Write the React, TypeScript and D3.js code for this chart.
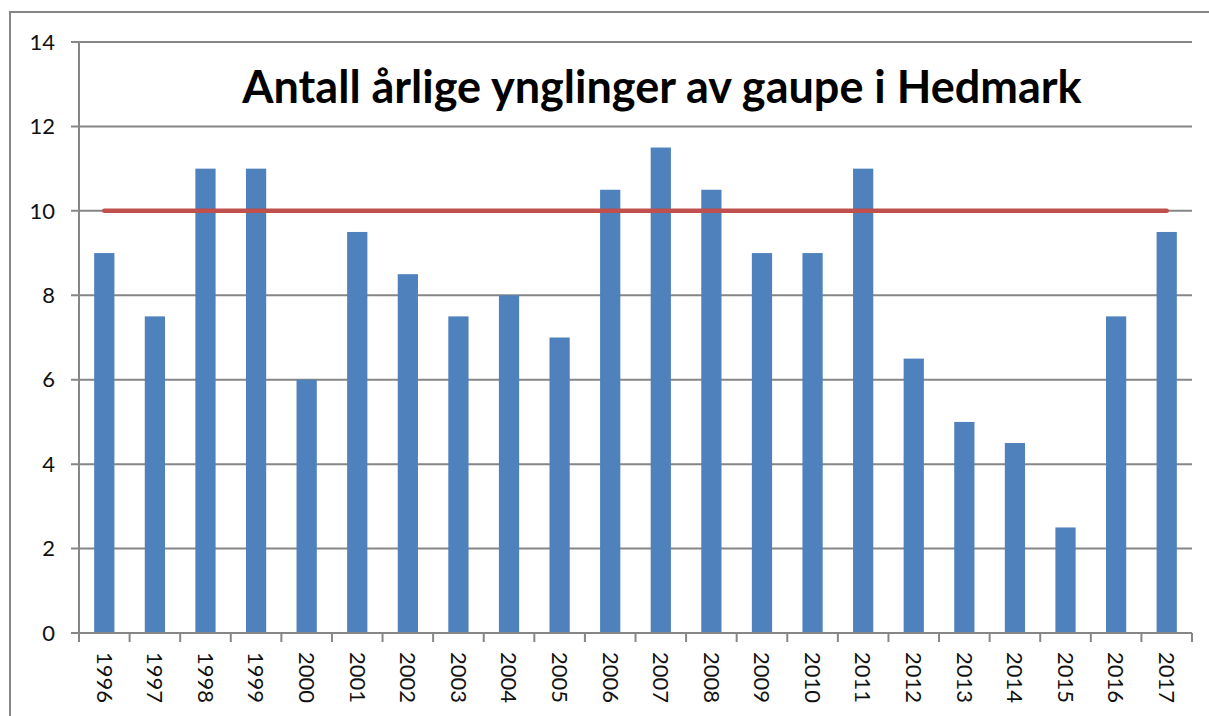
import { useEffect, useRef } from "react";
import * as d3 from "d3";

const years = [
  "1996", "1997", "1998", "1999", "2000", "2001", "2002", "2003", "2004", "2005", "2006",
  "2007", "2008", "2009", "2010", "2011", "2012", "2013", "2014", "2015", "2016", "2017",
];
const broods = [9, 7.5, 11, 11, 6, 9.5, 8.5, 7.5, 8, 7, 10.5, 11.5, 10.5, 9, 9, 11, 6.5, 5, 4.5, 2.5, 7.5, 9.5];
const target = years.map(() => 10);
const yTicks = [0, 2, 4, 6, 8, 10, 12, 14];
const title = "Antall årlige ynglinger av gaupe i Hedmark";

const FONT = "Lato, 'Open Sans', sans-serif";
const GRID = "#868686";

const App = () => {
  const svgRef = useRef<SVGSVGElement | null>(null);

  useEffect(() => {
    const svg = d3.select(svgRef.current);
    svg.selectAll("*").remove();

    const width = 1209;
    const height = 716;
    const left = 79;
    const right = 1192;
    const top = 42;
    const bottom = 633;

    // chart frame (runs off the right/bottom edge like the screenshot)
    svg.append("rect")
      .attr("x", 10).attr("y", 12)
      .attr("width", width + 20).attr("height", height + 20)
      .attr("fill", "white").attr("stroke", GRID).attr("stroke-width", 2);

    const x = d3.scaleBand().domain(years).range([left, right]).paddingInner(0).paddingOuter(0);
    const y = d3.scaleLinear().domain([0, 14]).range([bottom, top]);

    // gridlines + y ticks
    svg.append("g")
      .selectAll("line")
      .data(yTicks)
      .join("line")
      .attr("x1", left - 8).attr("x2", right)
      .attr("y1", (d) => y(d)).attr("y2", (d) => y(d))
      .attr("stroke", GRID).attr("stroke-width", 2);

    svg.append("g")
      .selectAll("text")
      .data(yTicks)
      .join("text")
      .attr("x", 55)
      .attr("y", (d) => y(d))
      .attr("dy", "0.35em")
      .attr("text-anchor", "end")
      .style("font-family", FONT)
      .style("font-size", "22px")
      .attr("fill", "#111")
      .text((d) => d);

    // y axis line
    svg.append("line")
      .attr("x1", left).attr("x2", left)
      .attr("y1", top).attr("y2", bottom)
      .attr("stroke", GRID).attr("stroke-width", 2);

    // bars
    const barW = x.bandwidth() / 2.5;
    svg.append("g")
      .selectAll("rect")
      .data(broods)
      .join("rect")
      .attr("x", (_, i) => (x(years[i]) as number) + (x.bandwidth() - barW) / 2)
      .attr("y", (d) => y(d))
      .attr("width", barW)
      .attr("height", (d) => bottom - y(d))
      .attr("fill", "#4F81BD");

    // x axis + ticks
    svg.append("line")
      .attr("x1", left).attr("x2", right)
      .attr("y1", bottom).attr("y2", bottom)
      .attr("stroke", GRID).attr("stroke-width", 2);

    svg.append("g")
      .selectAll("line")
      .data([...years.map((yr) => x(yr) as number), right])
      .join("line")
      .attr("x1", (d) => d).attr("x2", (d) => d)
      .attr("y1", bottom).attr("y2", bottom + 9)
      .attr("stroke", GRID).attr("stroke-width", 2);

    svg.append("g")
      .selectAll("text")
      .data(years)
      .join("text")
      .attr("transform", (d) => `translate(${(x(d) as number) + x.bandwidth() / 2},652) rotate(90)`)
      .attr("dy", "0.35em")
      .attr("text-anchor", "start")
      .style("font-family", FONT)
      .style("font-size", "22px")
      .attr("fill", "#111")
      .text((d) => d);

    // target line
    const line = d3.line<number>()
      .x((_, i) => (x(years[i]) as number) + x.bandwidth() / 2)
      .y((d) => y(d));
    svg.append("path")
      .datum(target)
      .attr("d", line)
      .attr("fill", "none")
      .attr("stroke", "#C0504D")
      .attr("stroke-width", 4.5)
      .attr("stroke-linecap", "round");

    // title
    svg.append("text")
      .attr("x", 662)
      .attr("y", 103)
      .attr("text-anchor", "middle")
      .style("font-family", FONT)
      .style("font-size", "45px")
      .style("font-weight", "bold")
      .attr("fill", "#000")
      .text(title);
  }, []);

  return (
    <svg
      ref={svgRef}
      width={1209}
      height={716}
      style={{ position: "absolute", left: 0, top: 0, background: "white" }}
    />
  );
};

export default App;
